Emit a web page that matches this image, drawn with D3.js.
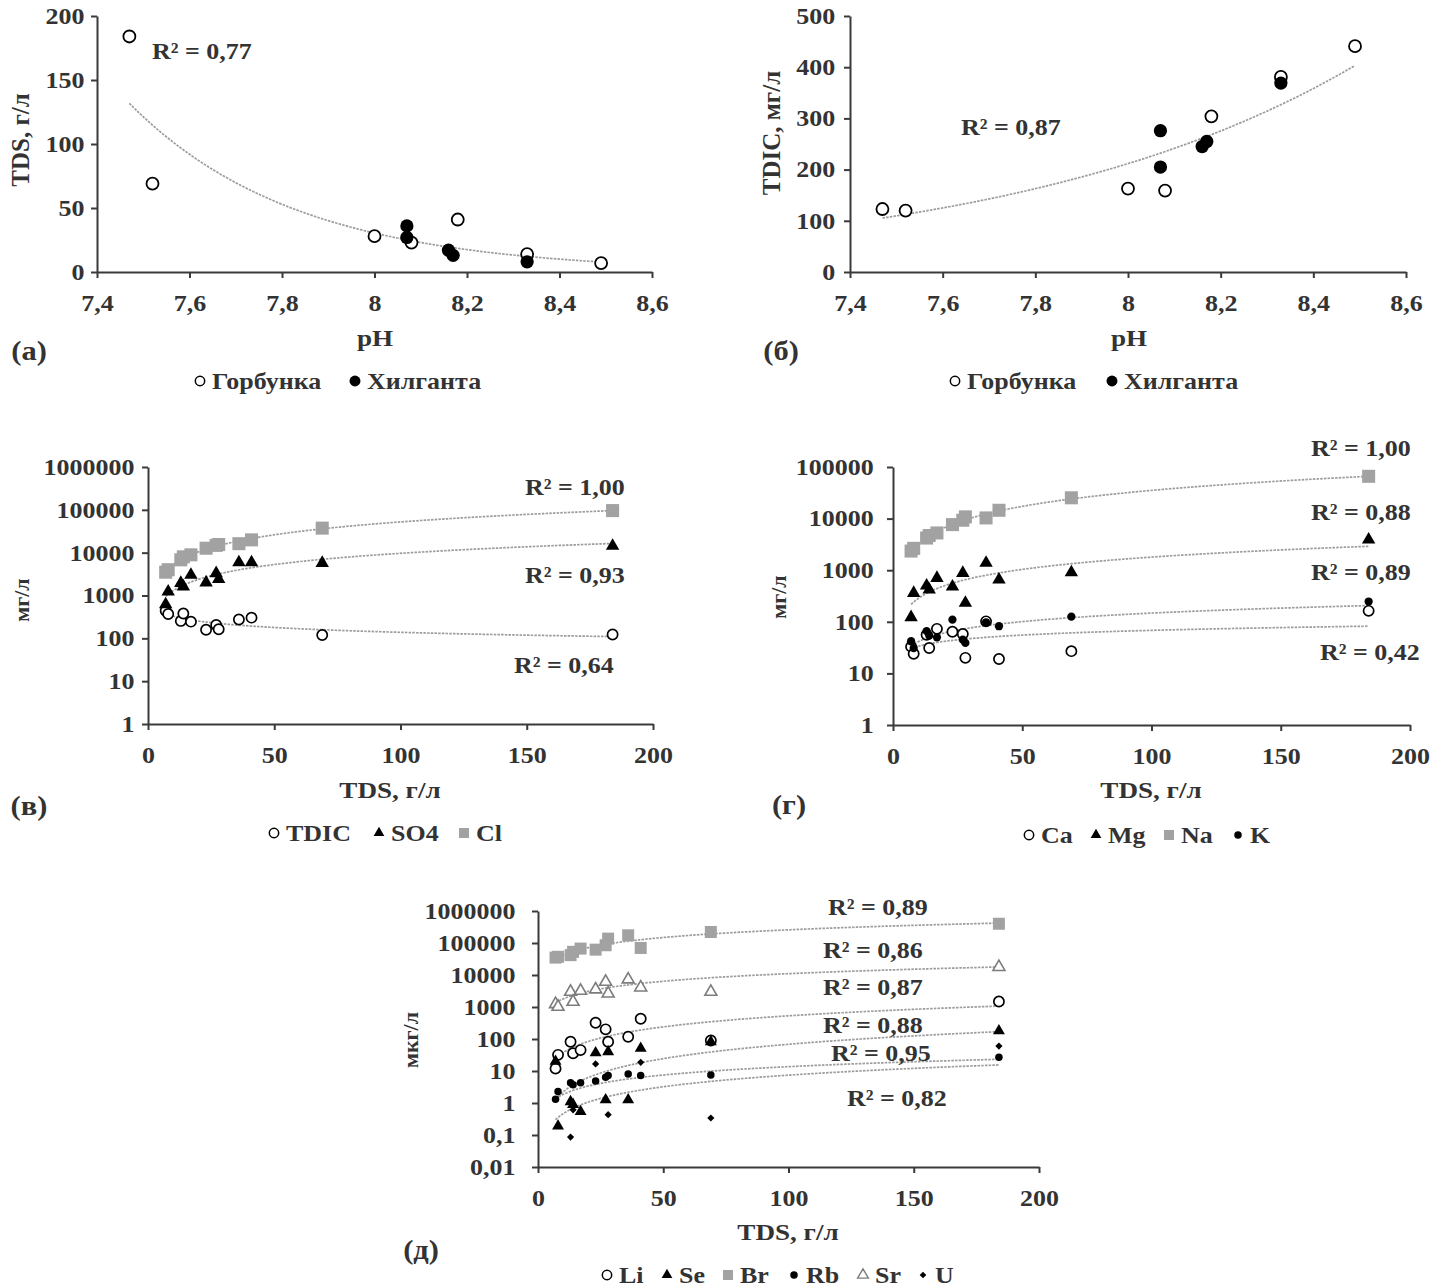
<!DOCTYPE html>
<html>
<head>
<meta charset="utf-8">
<script src="https://cdnjs.cloudflare.com/ajax/libs/d3/7.8.5/d3.min.js"></script>
<style>
  body { margin: 0; background: #fff; }
  svg text { font-family: "Liberation Serif", "Times New Roman", serif; font-weight: bold; fill: #333; }
</style>
</head>
<body>
<script>
// (а), (б): samples of the two lakes
const gorbPH   = [7.47, 7.52, 8.00, 8.08, 8.18, 8.33, 8.49];
const gorbTDS  = [184, 69, 28, 23, 41, 14, 7];
const gorbTDIC = [123, 120, 163, 159, 304, 381, 441];
const hilPH    = [8.07, 8.07, 8.16, 8.17, 8.33];
const hilTDS   = [36, 27, 17, 13, 8];
const hilTDIC  = [276, 205, 245, 255, 369];

// (в) - (д): all samples against TDS, g/l
const tds  = [7, 8, 13, 14, 17, 23, 27, 28, 36, 41, 69, 184];
const tdic = [441, 369, 255, 381, 245, 159, 205, 163, 276, 304, 120, 123];
const so4  = [620, 1230, 1950, 1620, 3030, 2000, 3300, 2400, 5900, 5900, 5700, 14400];
const cl   = [3500, 4000, 6800, 8000, 8900, 12700, 14800, 15500, 16200, 19900, 37400, 96000];

const ca = [33, 24, 56, 31, 73, 64, 58, 20, 102, 19, 27, 163];
const mg = [122, 360, 500, 418, 705, 480, 882, 232, 1380, 655, 906, 3900];
const na = [2350, 2650, 4200, 4700, 5270, 7650, 9300, 10800, 10300, 14500, 25300, 66000];
const k  = [42, 31, 66, 54, 50, 110, 45, 39, 98, 82, 126, 247];

const li = [12, 32, 82, 36, 45, 322, 200, 82, 117, 430, 90, 1480];
const se = [20, 0.19, 1.1, 0.9, 0.54, 37, 1.25, 40, 1.25, 51, 82, 180];
const br = [35000, 37000, 41700, 53000, 67000, 62000, 85000, 137000, 174000, 70000, 221000, 400000];
const rb = [1.3, 2.3, 4.3, 3.7, 4.3, 4.9, 6.4, 7.2, 8.1, 7.2, 7.5, 27];
const sr = [1230, 1010, 2980, 1450, 3200, 3540, 6100, 2630, 7250, 4070, 2980, 17800];
const u  = [null, null, 0.086, 0.61, null, 16.6, null, 0.43, null, 18.7, 0.34, 60];

// trend lines of (д), y = a * TDS^b (many points overlap there)
const brFit = [6573, 0.797];
const srFit = [290.8, 0.789];
const liFit = [2.67, 1.149];
const seFit = [0.0716, 1.49];
const rbFit = [0.251, 0.868];
const uFit  = [0.0287, 1.206];

// ticks
const phTicks  = [7.4, 7.6, 7.8, 8, 8.2, 8.4, 8.6];
const phLabels = ["7,4", "7,6", "7,8", "8", "8,2", "8,4", "8,6"];
const tdsTicks = [0, 50, 100, 150, 200];
const logTicks  = [0.01, 0.1, 1, 10, 100, 1000, 10000, 100000, 1000000];
const logLabels = ["0,01", "0,1", "1", "10", "100", "1000", "10000", "100000", "1000000"];

const SX = 1.13; // the figure's letters are a bit wider than Times
const svg = d3.select("body").append("svg").attr("width", 1434).attr("height", 1288);

function txt(x, y, s, size, anchor, rot) {
  return svg.append("text")
    .attr("transform", rot ? `translate(${x},${y}) rotate(${rot})` : `translate(${x},${y}) scale(${SX},1)`)
    .attr("text-anchor", anchor || "start")
    .attr("dy", "0.35em")
    .style("font-size", size + "px")
    .text(s);
}

function axes(x, y, xTicks, xFmt, yTicks, yFmt, yPad) {
  const gx = svg.append("g").attr("transform", `translate(0,${y.range()[0]})`)
    .call(d3.axisBottom(x).tickValues(xTicks).tickFormat(xFmt).tickSize(6).tickPadding(17).tickSizeOuter(0));
  const gy = svg.append("g").attr("transform", `translate(${x.range()[0]},0)`)
    .call(d3.axisLeft(y).tickValues(yTicks).tickFormat(yFmt).tickSize(6).tickPadding(yPad).tickSizeOuter(0));
  [gx, gy].forEach(g => {
    g.attr("font-family", null).attr("font-size", null);
    g.selectAll("path, line").attr("stroke", "#3a3a3a").attr("stroke-width", 2);
    g.selectAll("text").style("font-size", "23px").attr("transform", `scale(${SX},1)`);
  });
}

function mark(g, cx, cy, s) {
  g.append("path")
    .attr("transform", `translate(${cx},${cy})` + (s.rot ? ` rotate(${s.rot})` : ""))
    .attr("d", d3.symbol(s.type, s.size)())
    .attr("fill", s.fill)
    .attr("stroke", s.stroke || "none")
    .attr("stroke-width", s.sw || 0);
}

function points(x, y, xs, ys, s) {
  const g = svg.append("g");
  xs.forEach((v, i) => { if (ys[i] != null) mark(g, x(v), y(ys[i]), s); });
}

function linreg(xs, ys) {
  const mx = d3.mean(xs), my = d3.mean(ys);
  const m = d3.sum(xs, (v, i) => (v - mx) * (ys[i] - my)) / d3.sum(xs, v => (v - mx) ** 2);
  return { m: m, c: my - m * mx };
}
function fitExp(xs, ys) {
  const r = linreg(xs, ys.map(Math.log));
  return v => Math.exp(r.c + r.m * v);
}
function fitPow(xs, ys) {
  const r = linreg(xs.map(Math.log), ys.map(Math.log));
  return v => Math.exp(r.c + r.m * Math.log(v));
}
function powFn(ab) { return v => ab[0] * Math.pow(v, ab[1]); }

function trend(x, y, f, x0, x1) {
  const xs = d3.range(101).map(i => x0 + (x1 - x0) * i / 100);
  svg.append("path").datum(xs)
    .attr("d", d3.line().x(d => x(d)).y(d => y(f(d))))
    .attr("fill", "none").attr("stroke", "#9c9c9c")
    .attr("stroke-width", 1.7).attr("stroke-dasharray", "2.5,1.2");
}

function legend(y, items) {
  const g = svg.append("g");
  items.forEach(it => {
    mark(g, it[0], y, it[1]);
    txt(it[0] + 12, y, it[2], 23, "start");
  });
}

// marker styles
const openC  = { type: d3.symbolCircle, size: Math.PI * 36, fill: "#fff", stroke: "#000", sw: 1.8 };
const fullC  = { type: d3.symbolCircle, size: Math.PI * 44, fill: "#000" };
const openCs = { type: d3.symbolCircle, size: Math.PI * 26, fill: "#fff", stroke: "#000", sw: 1.7 };
const tri    = { type: d3.symbolTriangle, size: 78, fill: "#000" };
const sq     = { type: d3.symbolSquare, size: 170, fill: "#a2a2a2" };
const dot    = { type: d3.symbolCircle, size: Math.PI * 17, fill: "#000" };
const triS   = { type: d3.symbolTriangle, size: 62, fill: "#000" };
const sqS    = { type: d3.symbolSquare, size: 144, fill: "#a2a2a2" };
const triO   = { type: d3.symbolTriangle, size: 62, fill: "#fff", stroke: "#7c7c7c", sw: 1.6 };
const dotS   = { type: d3.symbolCircle, size: Math.PI * 14, fill: "#000" };
const diam   = { type: d3.symbolSquare, size: 26, fill: "#000", rot: 45 };
// legend versions
const lgOpen = { type: d3.symbolCircle, size: Math.PI * 22, fill: "#fff", stroke: "#000", sw: 1.5 };
const lgFull = { type: d3.symbolCircle, size: Math.PI * 30, fill: "#000" };
const lgTri  = { type: d3.symbolTriangle, size: 50, fill: "#000" };
const lgSq   = { type: d3.symbolSquare, size: 100, fill: "#a2a2a2" };
const lgDot  = { type: d3.symbolCircle, size: Math.PI * 14, fill: "#000" };
const lgTriO = { type: d3.symbolTriangle, size: 50, fill: "#fff", stroke: "#7c7c7c", sw: 1.4 };
const lgDiam = { type: d3.symbolSquare, size: 22, fill: "#000", rot: 45 };

const phFmt = (d, i) => phLabels[i];
const numFmt = d => String(d);
const logFmt = d => logLabels[logTicks.indexOf(d)];

// ---------- (а) TDS vs pH ----------
const xA = d3.scaleLinear().domain([7.4, 8.6]).range([97, 652]);
const yA = d3.scaleLinear().domain([0, 200]).range([272, 16]);
axes(xA, yA, phTicks, phFmt, [0, 50, 100, 150, 200], numFmt, 5);
const allPH = gorbPH.concat(hilPH);
trend(xA, yA, fitExp(allPH, gorbTDS.concat(hilTDS)), d3.min(allPH), d3.max(allPH));
points(xA, yA, gorbPH, gorbTDS, openC);
points(xA, yA, hilPH, hilTDS, fullC);
txt(152, 51, "R² = 0,77", 23);
txt(375, 338, "pH", 24, "middle");
txt(20, 140, "TDS,  г/л", 25, "middle", -90);
txt(29, 351, "(а)", 27, "middle");
legend(381, [[200, lgOpen, "Горбунка"], [355, lgFull, "Хилганта"]]);

// ---------- (б) TDIC vs pH ----------
const xB = d3.scaleLinear().domain([7.4, 8.6]).range([850, 1406]);
const yB = d3.scaleLinear().domain([0, 500]).range([272, 16]);
axes(xB, yB, phTicks, phFmt, [0, 100, 200, 300, 400, 500], numFmt, 7);
trend(xB, yB, fitExp(allPH, gorbTDIC.concat(hilTDIC)), d3.min(allPH), d3.max(allPH));
points(xB, yB, gorbPH, gorbTDIC, openC);
points(xB, yB, hilPH, hilTDIC, fullC);
txt(961, 127, "R² = 0,87", 23);
txt(1129, 338, "pH", 24, "middle");
txt(771, 133, "TDIC,  мг/л", 25, "middle", -90);
txt(781, 351, "(б)", 27, "middle");
legend(381, [[955, lgOpen, "Горбунка"], [1112, lgFull, "Хилганта"]]);

// ---------- (в) anions vs TDS ----------
const xC = d3.scaleLinear().domain([0, 200]).range([148, 653]);
const yC = d3.scaleLog().domain([1, 1e6]).range([724, 467]);
axes(xC, yC, tdsTicks, numFmt, logTicks.slice(2), logFmt, 6);
const t0 = d3.min(tds), t1 = d3.max(tds);
trend(xC, yC, fitPow(tds, cl), t0, t1);
trend(xC, yC, fitPow(tds, so4), t0, t1);
trend(xC, yC, fitPow(tds, tdic), t0, t1);
points(xC, yC, tds, tdic, openCs);
points(xC, yC, tds, so4, tri);
points(xC, yC, tds, cl, sq);
txt(525, 487, "R² = 1,00", 23);
txt(525, 575, "R² = 0,93", 23);
txt(514, 665, "R² = 0,64", 23);
txt(390, 790, "TDS, г/л", 24, "middle");
txt(21, 600, "мг/л", 22, "middle", -90);
txt(29, 806, "(в)", 27, "middle");
legend(833, [[274, lgOpen, "TDIC"], [379, lgTri, "SO4"], [464, lgSq, "Cl"]]);

// ---------- (г) cations vs TDS ----------
const xG = d3.scaleLinear().domain([0, 200]).range([893, 1410]);
const yG = d3.scaleLog().domain([1, 1e5]).range([725, 467]);
axes(xG, yG, tdsTicks, numFmt, logTicks.slice(2, 8), logFmt, 11);
trend(xG, yG, fitPow(tds, na), t0, t1);
trend(xG, yG, fitPow(tds, mg), t0, t1);
trend(xG, yG, fitPow(tds, k), t0, t1);
trend(xG, yG, fitPow(tds, ca), t0, t1);
points(xG, yG, tds, ca, openCs);
points(xG, yG, tds, mg, tri);
points(xG, yG, tds, na, sq);
points(xG, yG, tds, k, dot);
txt(1311, 448, "R² = 1,00", 23);
txt(1311, 512, "R² = 0,88", 23);
txt(1311, 572, "R² = 0,89", 23);
txt(1320, 652, "R² = 0,42", 23);
txt(1151, 790, "TDS, г/л", 24, "middle");
txt(778, 597, "мг/л", 22, "middle", -90);
txt(789, 805, "(г)", 27, "middle");
legend(835, [[1029, lgOpen, "Ca"], [1096, lgTri, "Mg"], [1169, lgSq, "Na"], [1238, lgDot, "K"]]);

// ---------- (д) trace elements vs TDS ----------
const xD = d3.scaleLinear().domain([0, 200]).range([538, 1039]);
const yD = d3.scaleLog().domain([0.01, 1e6]).range([1167, 911]);
axes(xD, yD, tdsTicks, numFmt, logTicks, logFmt, 14);
[brFit, srFit, liFit, seFit, rbFit, uFit].forEach(f => trend(xD, yD, powFn(f), t0, t1));
points(xD, yD, tds, br, sqS);
points(xD, yD, tds, sr, triO);
points(xD, yD, tds, li, openCs);
points(xD, yD, tds, se, triS);
points(xD, yD, tds, rb, dotS);
points(xD, yD, tds, u, diam);
txt(828, 907, "R² = 0,89", 23);
txt(823, 950, "R² = 0,86", 23);
txt(823, 987, "R² = 0,87", 23);
txt(823, 1025, "R² = 0,88", 23);
txt(831, 1053, "R² = 0,95", 23);
txt(847, 1098, "R² = 0,82", 23);
txt(788, 1232, "TDS, г/л", 24, "middle");
txt(410, 1040, "мкг/л", 22, "middle", -90);
txt(421, 1250, "(д)", 27, "middle");
legend(1275, [[607, lgOpen, "Li"], [667, lgTri, "Se"], [728, lgSq, "Br"], [794, lgDot, "Rb"],
              [863, lgTriO, "Sr"], [923, lgDiam, "U"]]);
</script>
</body>
</html>
